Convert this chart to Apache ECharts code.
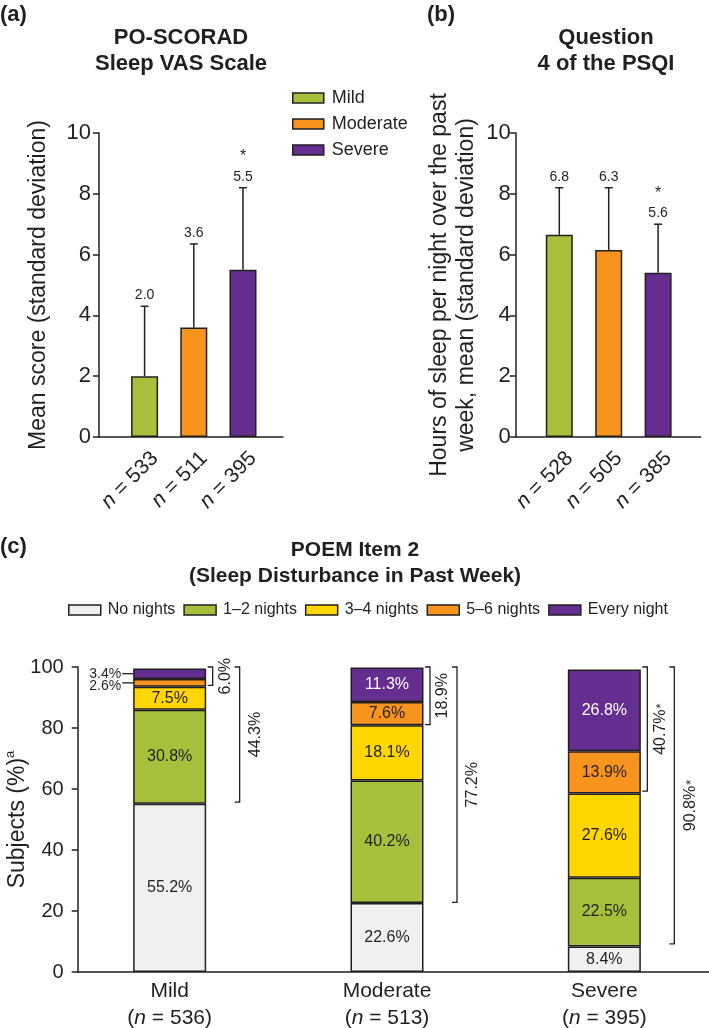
<!DOCTYPE html>
<html><head><meta charset="utf-8">
<script src="https://cdn.jsdelivr.net/npm/echarts@6/dist/echarts.min.js"></script>
<style>html,body{margin:0;padding:0;background:#fff}#c{width:709px;height:1028px}</style>
</head><body><div id="c"></div>
<script>
// ---------- data ----------
const severityNames = ['Mild', 'Moderate', 'Severe'];
const aN = ['533', '511', '395'];
const aMean = [2.0, 3.6, 5.5];
const aSD = [2.3, 2.75, 2.7];
const aStar = [false, false, true];
const bN = ['528', '505', '385'];
const bMean = [6.65, 6.15, 5.4];
const bSD = [1.55, 2.05, 1.6];
const bLabels = ['6.8', '6.3', '5.6'];
const bStar = [false, false, true];

const cCategories = ['Mild', 'Moderate', 'Severe'];
const cN = ['536', '513', '395'];
const cSeriesNames = ['No nights', '1–2 nights', '3–4 nights', '5–6 nights', 'Every night'];
const cNoNights = [55.2, 22.6, 8.4];
const c12Nights = [30.8, 40.2, 22.5];
const c34Nights = [7.5, 18.1, 27.6];
const c56Nights = [2.6, 7.6, 13.9];
const cEveryNight = [3.4, 11.3, 26.8];
const cValues = [cNoNights, c12Nights, c34Nights, c56Nights, cEveryNight];
const cBracketSmall = [6.0, 18.9, 40.7];
const cBracketLarge = [44.3, 77.2, 90.8];
const cBracketStar = [false, false, true];

// ---------- styles ----------
const FONT = '"Liberation Sans", Arial, Helvetica, sans-serif';
const INK = '#231f20';
const sevColors = ['#a6c03c', '#f7941d', '#662d91'];
const cColors = ['#eff0ef', '#a6c03c', '#ffd600', '#f7941d', '#662d91'];

const chart = echarts.init(document.getElementById('c'));

function errorBar(labels, stars) {
  return function (params, api) {
    const i = api.value(0), m = api.value(1), sd = api.value(2);
    const base = api.coord([i, m]);
    const top = api.coord([i, m + sd]);
    const cap = 4;
    const ch = [
      {type: 'line', shape: {x1: base[0], y1: base[1], x2: top[0], y2: top[1]}, style: {stroke: INK, lineWidth: 1.5}},
      {type: 'line', shape: {x1: top[0] - cap, y1: top[1], x2: top[0] + cap, y2: top[1]}, style: {stroke: INK, lineWidth: 1.5}},
      {type: 'text', x: top[0], y: top[1] - 11, style: {text: labels[params.dataIndex], align: 'center', verticalAlign: 'middle', fontFamily: FONT, fontSize: 14, fill: INK}}
    ];
    if (stars[params.dataIndex]) {
      ch.push({type: 'text', x: top[0], y: top[1] - 31, style: {text: '*', align: 'center', verticalAlign: 'middle', fontFamily: FONT, fontSize: 16, fill: INK}});
    }
    return {type: 'group', children: ch};
  };
}

function bracketRender(params, api) {
  const i = api.value(0);
  const vals = [api.value(1), api.value(2)];
  const idx = params.dataIndex;
  const xOff = [43, 70], tOff = [56, 86];
  const ch = [];
  vals.forEach((v, k) => {
    const top = api.coord([i, 100]);
    const bot = api.coord([i, 100 - v]);
    const x = top[0] + xOff[k];
    ch.push({type: 'polyline', shape: {points: [[x - 5, top[1]], [x, top[1]], [x, bot[1]], [x - 5, bot[1]]]}, style: {stroke: INK, lineWidth: 1.3, fill: null}});
    ch.push({type: 'text', x: top[0] + tOff[k], y: (top[1] + bot[1]) / 2, rotation: Math.PI / 2,
      style: {text: v.toFixed(1) + '%' + (cBracketStar[idx] ? '{s|*}' : ''), align: 'center', verticalAlign: 'middle', fontFamily: FONT, fontSize: 16, fill: INK,
        rich: {s: {fontFamily: FONT, fontSize: 13, fill: INK, verticalAlign: 'bottom', padding: [0, 0, 0, 1]}}}});
  });
  return {type: 'group', children: ch};
}

function outsideLabelRender(params, api) {
  const i = api.value(0);
  let cum = 0;
  const segs = [];
  cValues.forEach(row => { const v = row[i]; segs.push([cum, cum + v, v]); cum += v; });
  const small = segs.filter(s => s[2] < 5).reverse();
  const ch = [];
  let lastY = -Infinity;
  small.forEach(s => {
    const mid = api.coord([i, (s[0] + s[1]) / 2]);
    const left = mid[0] - 36.5;
    const ty = Math.max(mid[1], lastY + 12);
    lastY = ty;
    ch.push({type: 'line', shape: {x1: left - 11, y1: mid[1], x2: left, y2: mid[1]}, style: {stroke: INK, lineWidth: 1.3}});
    ch.push({type: 'text', x: left - 12, y: ty, style: {text: s[2].toFixed(1) + '%', align: 'right', verticalAlign: 'middle', fontFamily: FONT, fontSize: 14, fill: INK}});
  });
  return {type: 'group', children: ch};
}

const lineAxisX = (gi) => ({type: 'value', gridIndex: gi, min: 0, max: 1, axisLine: {show: true, lineStyle: {color: INK, width: 1.5}}, axisTick: {show: false}, axisLabel: {show: false}, splitLine: {show: false}});
const hiddenY = (gi, max) => ({type: 'value', gridIndex: gi, min: 0, max: max, show: false, splitLine: {show: false}});
const shownY = (gi, max, interval, margin, fs, name, nameGap, nameRich) => ({
  type: 'value', gridIndex: gi, min: 0, max: max, interval: interval,
  axisLine: {show: true, lineStyle: {color: INK, width: 1.5}},
  axisTick: {show: true, length: 6, lineStyle: {color: INK, width: 1.5}},
  axisLabel: {margin: margin, fontFamily: FONT, fontSize: fs, color: INK},
  splitLine: {show: false},
  name: name, nameLocation: 'middle', nameGap: nameGap, nameMoveOverlap: false,
  nameTextStyle: Object.assign({fontFamily: FONT, fontSize: 23, color: INK, lineHeight: 27}, nameRich ? {rich: nameRich} : {})
});
const nLabel = {
  rotate: 45, margin: 8, verticalAlign: 'top', padding: [4, 0, 0, 0],
  fontFamily: FONT, fontSize: 21, color: INK,
  formatter: v => '{i|n} = ' + v,
  rich: {i: {fontStyle: 'italic', fontFamily: FONT, fontSize: 21, color: INK}}
};

const option = {
  animation: false,
  backgroundColor: '#fff',
  textStyle: {fontFamily: FONT},
  grid: [
    {left: 120, top: 133, width: 147.6, height: 304},
    {left: 99, top: 133, width: 184, height: 304},
    {left: 534.6, top: 133, width: 148.2, height: 304},
    {left: 515.7, top: 133, width: 185, height: 304},
    {left: 61, top: 667, width: 652, height: 305},
    {left: 77.7, top: 667, width: 631.3, height: 305}
  ].map(g => Object.assign({outerBoundsMode: 'none', containLabel: false}, g)),
  xAxis: [
    {type: 'category', gridIndex: 0, data: aN, axisLine: {show: false}, axisTick: {show: false}, axisLabel: nLabel},
    lineAxisX(1),
    {type: 'category', gridIndex: 2, data: bN, axisLine: {show: false}, axisTick: {show: false}, axisLabel: nLabel},
    lineAxisX(3),
    {type: 'category', gridIndex: 4, data: cCategories, axisLine: {show: false}, axisTick: {show: false},
      axisLabel: {margin: 6, lineHeight: 27, fontFamily: FONT, fontSize: 21, color: INK,
        formatter: (v, i) => v + '\n({i|n} = ' + cN[i] + ')',
        rich: {i: {fontStyle: 'italic', fontFamily: FONT, fontSize: 21, color: INK, lineHeight: 27}}}},
    lineAxisX(5)
  ],
  yAxis: [
    hiddenY(0, 10),
    shownY(1, 10, 2, 8, 22, 'Mean score (standard deviation)', 47),
    hiddenY(2, 10),
    shownY(3, 10, 2, 5, 22, 'Hours of sleep per night over the past\nweek, mean (standard deviation)', 36),
    hiddenY(4, 100),
    shownY(5, 100, 20, 14, 20, 'Subjects (%){sup|a}', 47, {sup: {fontFamily: FONT, fontSize: 13, color: INK, verticalAlign: 'top'}})
  ],
  legend: [
    {data: severityNames, orient: 'vertical', left: 292, top: 89, itemWidth: 31, itemHeight: 10, itemGap: 8, icon: 'rect', selectedMode: false, padding: 0,
      textStyle: {fontFamily: FONT, fontSize: 18, color: INK, padding: [0, 0, 0, 3]}, itemStyle: {borderColor: INK, borderWidth: 1.5}},
    {data: cSeriesNames, orient: 'horizontal', left: 68, top: 602, itemWidth: 32, itemHeight: 10, itemGap: 8, icon: 'rect', selectedMode: false, padding: 0,
      textStyle: {fontFamily: FONT, fontSize: 16, color: INK, padding: [0, 0, 0, 2]}, itemStyle: {borderColor: INK, borderWidth: 1.5}}
  ],
  graphic: [
    {type: 'text', x: 0, y: 15, style: {text: '(a)', verticalAlign: 'middle', fontFamily: FONT, fontSize: 22, fontWeight: 'bold', fill: INK}},
    {type: 'text', x: 427, y: 15, style: {text: '(b)', verticalAlign: 'middle', fontFamily: FONT, fontSize: 22, fontWeight: 'bold', fill: INK}},
    {type: 'text', x: 0, y: 547, style: {text: '(c)', verticalAlign: 'middle', fontFamily: FONT, fontSize: 22, fontWeight: 'bold', fill: INK}},
    {type: 'text', x: 181, y: 51, style: {text: 'PO-SCORAD\nSleep VAS Scale', align: 'center', verticalAlign: 'middle', lineHeight: 26, fontFamily: FONT, fontSize: 22, fontWeight: 'bold', fill: INK}},
    {type: 'text', x: 606, y: 51, style: {text: 'Question\n4 of the PSQI', align: 'center', verticalAlign: 'middle', lineHeight: 26, fontFamily: FONT, fontSize: 22, fontWeight: 'bold', fill: INK}},
    {type: 'text', x: 355, y: 563, style: {text: 'POEM Item 2\n(Sleep Disturbance in Past Week)', align: 'center', verticalAlign: 'middle', lineHeight: 26, fontFamily: FONT, fontSize: 21, fontWeight: 'bold', fill: INK}}
  ],
  series: [
    ...severityNames.map((name, k) => ({
      type: 'bar', name: name, xAxisIndex: 0, yAxisIndex: 0, stack: 'a', barWidth: 27,
      data: aMean.map((v, i) => (i === k ? v : '-')),
      itemStyle: {color: sevColors[k], borderColor: INK, borderWidth: 1.5}
    })),
    {type: 'custom', xAxisIndex: 0, yAxisIndex: 0, z: 5, encode: {x: 0, y: 1},
      data: aMean.map((m, i) => [i, m, aSD[i]]), renderItem: errorBar(aMean.map(v => v.toFixed(1)), aStar)},
    {type: 'bar', xAxisIndex: 2, yAxisIndex: 2, barWidth: 27,
      data: bMean.map((v, i) => ({value: v, itemStyle: {color: sevColors[i]}})),
      itemStyle: {borderColor: INK, borderWidth: 1.5}},
    {type: 'custom', xAxisIndex: 2, yAxisIndex: 2, z: 5, encode: {x: 0, y: 1},
      data: bMean.map((m, i) => [i, m, bSD[i]]), renderItem: errorBar(bLabels, bStar)},
    ...cSeriesNames.map((name, k) => ({
      type: 'bar', name: name, xAxisIndex: 4, yAxisIndex: 4, stack: 'c', barWidth: 73,
      data: cValues[k],
      itemStyle: {color: cColors[k], borderColor: INK, borderWidth: 1.5},
      label: {show: true, position: 'inside', fontFamily: FONT, fontSize: 16, color: k === 4 ? '#fff' : INK,
        formatter: p => (p.value >= 5 ? p.value.toFixed(1) + '%' : '')}
    })),
    {type: 'custom', xAxisIndex: 4, yAxisIndex: 4, z: 5, encode: {x: 0, y: 1},
      data: cCategories.map((c, i) => [i, cBracketSmall[i], cBracketLarge[i]]), renderItem: bracketRender},
    {type: 'custom', xAxisIndex: 4, yAxisIndex: 4, z: 5, encode: {x: 0},
      data: cCategories.map((c, i) => [i]), renderItem: outsideLabelRender}
  ]
};
chart.setOption(option);
</script>
</body></html>
